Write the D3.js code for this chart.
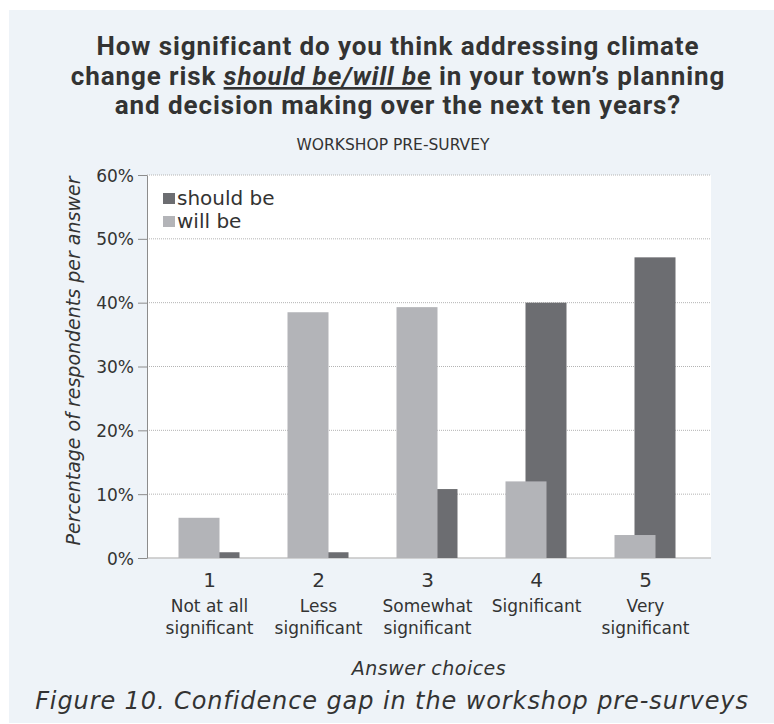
<!DOCTYPE html>
<html>
<head>
<meta charset="utf-8">
<script src="https://cdn.jsdelivr.net/npm/d3@7"></script>
<style>
  body { margin: 0; background: #fff; }
  svg text { font-family: "DejaVu Sans", sans-serif; fill: #333; }
</style>
</head>
<body>
<svg id="chart" width="774" height="724"></svg>
<script>
// Data (percent of respondents)
var choices = ["1", "2", "3", "4", "5"];
var choiceNames = [["Not at all", "significant"], ["Less", "significant"], ["Somewhat", "significant"], ["Significant"], ["Very", "significant"]];
var willBe = [6.3, 38.5, 39.3, 12.0, 3.6];
var shouldBe = [0.9, 0.9, 10.8, 40.0, 47.1];
var yTicks = [0, 10, 20, 30, 40, 50, 60];
var seriesNames = ["should be", "will be"];

var dark = "#6c6d71", light = "#b3b4b8";

var svg = d3.select("svg#chart");

// panel background
svg.append("rect").attr("x", 9).attr("y", 10).attr("width", 765).attr("height", 713).attr("fill", "#eef3f8");

var plot = {left: 147, right: 711, top: 175, bottom: 558};

var x = d3.scaleBand().domain(choices).range([155, 700]);
var y = d3.scaleLinear().domain([0, 60]).range([plot.bottom, plot.top]);

// white plot area
svg.append("rect").attr("x", plot.left).attr("y", plot.top)
    .attr("width", plot.right - plot.left).attr("height", plot.bottom - plot.top).attr("fill", "#fff");

// gridlines
svg.append("g").selectAll("line").data(yTicks.filter(function(d) { return d > 0; })).enter().append("line")
    .attr("x1", plot.left).attr("x2", plot.right)
    .attr("y1", function(d) { return y(d); }).attr("y2", function(d) { return y(d); })
    .attr("stroke", "#b4b4b4").attr("stroke-dasharray", "1,1");

// baseline
svg.append("line").attr("x1", plot.left).attr("x2", plot.right).attr("y1", y(0)).attr("y2", y(0))
    .attr("stroke", "#c4c4c4").attr("stroke-width", 1.5);

// bars: should be behind, will be in front, overlapping
var barW = 41;
var g = svg.append("g");
g.selectAll("rect.should").data(shouldBe).enter().append("rect").attr("class", "should")
    .attr("x", function(d, i) { return x(choices[i]) + x.bandwidth() / 2 - 11; })
    .attr("y", function(d) { return y(d); })
    .attr("width", barW).attr("height", function(d) { return y(0) - y(d); })
    .attr("fill", dark);
g.selectAll("rect.will").data(willBe).enter().append("rect").attr("class", "will")
    .attr("x", function(d, i) { return x(choices[i]) + x.bandwidth() / 2 - 31; })
    .attr("y", function(d) { return y(d); })
    .attr("width", barW).attr("height", function(d) { return y(0) - y(d); })
    .attr("fill", light);

// y axis
var yAxis = d3.axisLeft(y).tickValues(yTicks).tickFormat(function(d) { return d + "%"; })
    .tickSize(9).tickSizeOuter(0).tickPadding(4);
var ya = svg.append("g").attr("transform", "translate(" + plot.left + ",0)").call(yAxis);
ya.select(".domain").attr("stroke", "#8c8c8c");
ya.selectAll(".tick line").attr("stroke", "#8c8c8c");
ya.selectAll(".tick text").style("font-size", "17px").attr("fill", "#333").attr("dy", "0.36em");

// x labels
var xl = svg.append("g");
choices.forEach(function(c, i) {
    var cx = x(c) + x.bandwidth() / 2;
    xl.append("text").attr("x", cx).attr("y", 587).attr("text-anchor", "middle")
        .style("font-size", "20px").text(c);
    choiceNames[i].forEach(function(line, j) {
        xl.append("text").attr("x", cx).attr("y", 612 + j * 22).attr("text-anchor", "middle")
            .style("font-size", "17px").text(line);
    });
});

// axis titles
svg.append("text").attr("x", 429).attr("y", 675).attr("text-anchor", "middle")
    .style("font-size", "19px").style("letter-spacing", "0.5px").style("font-style", "italic").text("Answer choices");
svg.append("text").attr("transform", "translate(80,361) rotate(-90)").attr("text-anchor", "middle")
    .style("font-size", "19px").style("font-style", "italic").text("Percentage of respondents per answer");

// legend
var leg = svg.append("g");
seriesNames.forEach(function(s, i) {
    leg.append("rect").attr("x", 163).attr("y", 193 + i * 23).attr("width", 12).attr("height", 11)
        .attr("fill", i === 0 ? dark : light);
    leg.append("text").attr("x", 177).attr("y", 205 + i * 23).style("font-size", "20px").text(s);
});

// titles
var tf = "Roboto, sans-serif";
function titleLine(yy) {
    return svg.append("text").attr("x", 398).attr("y", yy).attr("text-anchor", "middle")
        .style("font-family", tf).style("font-weight", "bold").style("font-size", "26px")
        .style("letter-spacing", "0.9px").attr("fill", "#222");
}
titleLine(55).text("How significant do you think addressing climate");
var t2 = titleLine(85);
t2.append("tspan").text("change risk ");
t2.append("tspan").style("font-style", "italic").style("text-decoration", "underline").text("should be/will be");
t2.append("tspan").text(" in your town\u2019s planning");
titleLine(114).text("and decision making over the next ten years?");

svg.append("text").attr("x", 393).attr("y", 150).attr("text-anchor", "middle")
    .style("font-size", "15.5px").text("WORKSHOP PRE-SURVEY");

svg.append("text").attr("x", 392).attr("y", 709).attr("text-anchor", "middle")
    .style("font-size", "24px").style("letter-spacing", "0.9px").style("font-style", "italic")
    .text("Figure 10. Confidence gap in the workshop pre-surveys");
</script>
</body>
</html>
